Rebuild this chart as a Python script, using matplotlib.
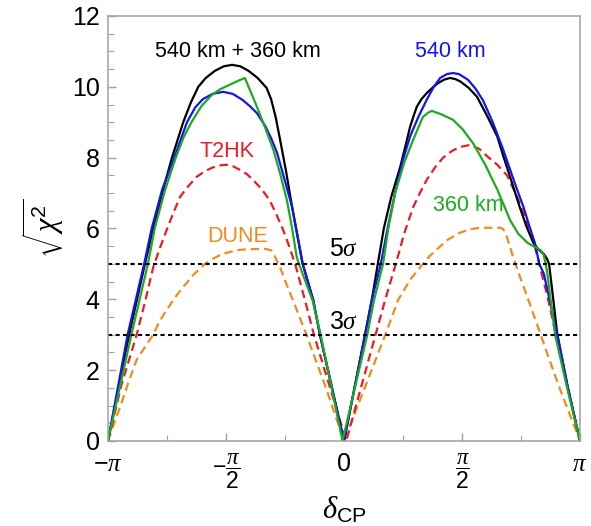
import numpy as np
import matplotlib
matplotlib.use("Agg")
import matplotlib.pyplot as plt
from matplotlib.ticker import FixedLocator, MultipleLocator

plt.rcParams["font.family"] = ["Liberation Sans", "DejaVu Sans"]
plt.rcParams["mathtext.fontset"] = "custom"
plt.rcParams["mathtext.rm"] = "Liberation Sans"
plt.rcParams["mathtext.it"] = "Liberation Serif:italic"
plt.rcParams["mathtext.bf"] = "Liberation Sans:bold"

PI = np.pi

# sqrt(chi^2) vs delta_CP (radians) for each configuration
combo_x = [-PI, -2.86, -2.65, -2.54, -2.42, -2.29, -2.14, -2.04, -1.94, -1.84, -1.72, -1.60,
           -1.49, -1.38, -1.27, -1.15, -1.09, -1.03, -0.97, -0.91, -0.85, -0.77, -0.69, -0.62,
           -0.55, -0.41, -0.32, 0.0,
           0.28, 0.37, 0.45, 0.53, 0.63, 0.75, 0.82, 0.88, 0.93, 0.97, 1.03, 1.10, 1.18, 1.25,
           1.33, 1.41, 1.48, 1.55, 1.66, 1.77, 1.90, 2.04, 2.12, 2.21, 2.34, 2.43, 2.52, 2.58,
           2.62, 2.66, 2.70, 2.73, 2.78, 2.84, 2.98, PI]
combo_y = [0.0, 3.0, 5.0, 6.0, 7.0, 8.0, 9.0, 9.55, 10.0, 10.25, 10.45, 10.58,
           10.62, 10.58, 10.45, 10.25, 10.11, 9.97, 9.65, 9.15, 8.5, 7.6, 6.6, 5.8,
           5.0, 3.98, 3.0, 0.0,
           3.0, 3.98, 5.0, 6.0, 6.9, 7.75, 8.35, 8.87, 9.2, 9.44, 9.65, 9.82, 9.98, 10.1,
           10.2, 10.25, 10.22, 10.15, 9.97, 9.72, 9.2, 8.6, 8.05, 7.46, 6.6, 6.05, 5.6, 5.43,
           5.35, 5.28, 5.15, 5.0, 4.1, 3.0, 1.5, 0.0]

km540_x = [-PI, -2.88, -2.66, -2.56, -2.42, -2.26, -2.09, -1.98, -1.88, -1.75, -1.61, -1.48,
           -1.35, -1.25, -1.16, -1.05, -0.97, -0.89, -0.80, -0.69, -0.62, -0.55, -0.41, -0.32,
           0.0,
           0.28, 0.37, 0.49, 0.58, 0.68, 0.78, 0.88, 0.99, 1.10, 1.19, 1.28, 1.37, 1.45, 1.53,
           1.65, 1.75, 1.85, 1.98, 2.12, 2.27, 2.39, 2.47, 2.54, 2.60, 2.66, 2.84, 2.98, PI]
km540_y = [0.0, 3.0, 5.0, 6.0, 7.1, 8.0, 9.0, 9.42, 9.65, 9.8, 9.86, 9.8,
           9.63, 9.45, 9.26, 8.9, 8.55, 8.13, 7.45, 6.6, 5.8, 5.0, 3.98, 3.0,
           0.0,
           3.0, 3.98, 5.0, 6.0, 7.0, 7.9, 8.6, 9.15, 9.63, 9.98, 10.25, 10.36, 10.39, 10.36,
           10.2, 9.95, 9.62, 9.0, 8.22, 7.3, 6.6, 6.05, 5.6, 5.0, 4.72, 3.0, 1.5, 0.0]

km360_x = [-PI, -2.83, -2.61, -2.52, -2.38, -2.24, -2.13, -2.03, -1.90, -1.76, -1.65, -1.55,
           -1.43, -1.32, -1.27, -1.22, -1.16, -1.05, -0.94, -0.85, -0.76, -0.69, -0.63, -0.60,
           -0.42, -0.31, -0.02,
           0.31, 0.40, 0.52, 0.59, 0.68, 0.80, 0.92, 1.05, 1.12, 1.17, 1.30, 1.45, 1.58, 1.72,
           1.88, 2.04, 2.12, 2.21, 2.32, 2.44, 2.52, 2.57, 2.62, 2.66, 2.70, 2.81, 2.97, PI]
km360_y = [0.0, 3.0, 5.0, 6.0, 7.1, 8.0, 8.6, 9.0, 9.45, 9.77, 9.93, 10.03,
           10.15, 10.25, 10.0, 9.75, 9.44, 8.85, 8.22, 7.55, 6.8, 6.0, 5.2, 5.0,
           3.98, 3.0, 0.0,
           3.0, 3.98, 5.0, 6.0, 7.0, 7.85, 8.5, 9.15, 9.27, 9.32, 9.22, 9.07, 8.8, 8.4,
           7.8, 7.1, 6.7, 6.24, 5.85, 5.6, 5.5, 5.45, 5.38, 5.25, 4.83, 3.0, 1.5, 0.0]

t2hk_x = [-PI, -2.96, -2.76, -2.64, -2.54, -2.45, -2.36, -2.27, -2.18, -2.07, -1.96, -1.85,
          -1.75, -1.66, -1.56, -1.47, -1.38, -1.29, -1.21, -1.10, -0.99, -0.90, -0.81, -0.73,
          -0.65, -0.52, -0.40, 0.03,
          0.42, 0.55, 0.69, 0.80, 0.92, 1.01, 1.10, 1.21, 1.32, 1.43, 1.54, 1.68, 1.80, 1.90,
          2.04, 2.17, 2.26, 2.34, 2.42, 2.50, 2.57, 2.63, 2.72, 2.82, PI]
t2hk_y = [0.0, 1.6, 3.0, 4.0, 4.9, 5.45, 5.96, 6.45, 6.9, 7.2, 7.46, 7.62,
          7.72, 7.78, 7.8, 7.75, 7.65, 7.53, 7.37, 7.12, 6.8, 6.4, 5.96, 5.5,
          5.0, 3.98, 3.0, 0.0,
          3.0, 4.0, 5.0, 5.85, 6.6, 7.0, 7.37, 7.72, 8.0, 8.18, 8.3, 8.36, 8.25, 8.05,
          7.8, 7.5, 7.1, 6.7, 6.25, 5.77, 5.25, 4.74, 3.98, 3.0, 0.0]

dune_x = [-PI, -3.06, -2.98, -2.87, -2.76, -2.65, -2.54, -2.45, -2.36, -2.25, -2.14, -2.00,
          -1.85, -1.75, -1.65, -1.55, -1.47, -1.38, -1.20, -1.03, -0.97, -0.94, -0.90, -0.85,
          -0.77, -0.68, -0.50, -0.23, 0.0,
          0.30, 0.55, 0.72, 0.88, 1.05, 1.14, 1.23, 1.38, 1.54, 1.68, 1.81, 2.08, 2.12, 2.17,
          2.25, 2.34, 2.44, 2.61, 2.75, 2.88, PI]
dune_y = [0.0, 0.5, 0.96, 1.65, 2.29, 2.65, 3.0, 3.4, 3.7, 4.05, 4.35, 4.7,
          5.0, 5.14, 5.25, 5.32, 5.36, 5.4, 5.42, 5.42, 5.38, 5.3, 5.12, 4.9,
          4.45, 3.98, 3.0, 1.44, 0.0,
          1.63, 3.0, 3.98, 4.55, 5.0, 5.22, 5.4, 5.68, 5.88, 5.98, 6.02, 6.02, 5.98, 5.75,
          5.2, 4.65, 4.07, 3.05, 2.2, 1.44, 0.0]

sigma_levels = [5, 3]
sigma_labels = [r"$5\sigma$", r"$3\sigma$"]

x_ticks = [-PI, -PI / 2, 0, PI / 2, PI]
x_ticklabels = [r"$-\pi$", r"$-\dfrac{\pi}{2}$", r"$0$", r"$\dfrac{\pi}{2}$", r"$\pi$"]
y_ticks = [0, 2, 4, 6, 8, 10, 12]

fig = plt.figure(figsize=(5.91, 5.26), dpi=100)
ax = fig.add_axes([0.1827, 0.1616, 0.7987, 0.808])

blue = "#1414f0"
green = "#1eaa1e"
red = "#ec1c24"
orange = "#f08c1e"

dash = (0, (3.8, 2.2))
ax.plot(dune_x, dune_y, color=orange, lw=1.6, ls=dash)
ax.plot(t2hk_x, t2hk_y, color=red, lw=1.6, ls=dash)
ax.plot(combo_x, combo_y, color="black", lw=1.6)
ax.plot(km540_x, km540_y, color=blue, lw=1.6)
ax.plot(km360_x, km360_y, color=green, lw=1.6)

for lvl in sigma_levels:
    ax.axhline(lvl, color="black", lw=1.5, ls=(0, (2.0, 1.6)))

ax.text(0.0, 5.42, sigma_labels[0], fontsize=18, ha="center", va="center")
ax.text(0.0, 3.36, sigma_labels[1], fontsize=18, ha="center", va="center")

ax.text(-1.41, 10.99, "540 km + 360 km", fontsize=15.5, color="black", ha="center", va="center")
ax.text(1.41, 10.99, "540 km", fontsize=15.5, color=blue, ha="center", va="center")
ax.text(-1.56, 8.16, "T2HK", fontsize=15.5, color=red, ha="center", va="center")
ax.text(1.65, 6.64, "360 km", fontsize=15.5, color=green, ha="center", va="center")
ax.text(-1.41, 5.76, "DUNE", fontsize=15.5, color=orange, ha="center", va="center")

ax.set_xlim(-PI, PI)
ax.set_ylim(0, 12)
ax.set_xticks(x_ticks)
ax.set_xticklabels(x_ticklabels, fontsize=18, va="top")
for lab in ax.get_xticklabels():
    if "dfrac" in lab.get_text():
        lab.set_fontsize(16.5)
ax.xaxis.set_minor_locator(FixedLocator([-3 * PI / 4, -PI / 4, PI / 4, 3 * PI / 4]))
ax.set_yticks(y_ticks)
ax.set_yticklabels([str(v) for v in y_ticks], fontsize=18)
ax.yaxis.set_minor_locator(MultipleLocator(0.5))

frame = "#a0a0a0"
for sp in ax.spines.values():
    sp.set_color(frame)
    sp.set_linewidth(1.1)
ax.tick_params(which="both", direction="in", color=frame, top=False, right=False)
ax.tick_params(which="major", length=6, width=1.0)
ax.tick_params(axis="x", which="major", pad=8)
ax.tick_params(axis="y", which="major", pad=6)
ax.tick_params(which="minor", length=4, width=0.8)

ax.set_xlabel(r"$\delta_{\mathrm{CP}}$", fontsize=22, va="center")
ax.xaxis.set_label_coords(0.5, -0.163)
ax.set_ylabel(r"$\sqrt{\chi^2}$", fontsize=22, labelpad=4)

fig.savefig("out.png", dpi=100)
